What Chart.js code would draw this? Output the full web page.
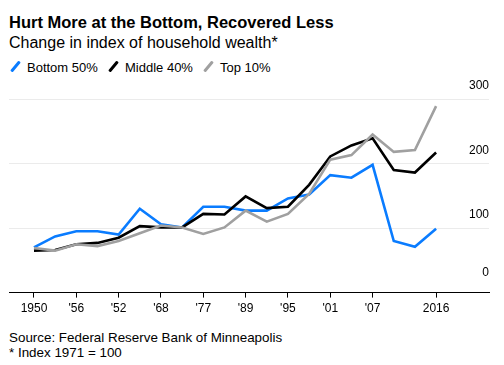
<!DOCTYPE html>
<html>
<head>
<meta charset="utf-8">
<script src="https://cdn.jsdelivr.net/npm/chart.js@4/dist/chart.umd.min.js"></script>
<style>
  body { margin: 0; width: 504px; height: 365px; background: #fff; font-family: "Liberation Sans", Arial, sans-serif; color: #000; overflow: hidden; }
  .abs { position: absolute; left: 9px; white-space: nowrap; }
  #title { top: 14.3px; font-size: 16.5px; line-height: 16.5px; font-weight: bold; }
  #subtitle { top: 34.8px; font-size: 16px; line-height: 16px; }
  #legend { top: 61.3px; font-size: 13px; line-height: 13px; left: 0; }
  #legend span.item { position: absolute; }
  #legend i { position: absolute; top: -1px; width: 3px; height: 13px; transform: rotate(40deg); border-radius: 1px; }
  #source { top: 329.9px; font-size: 13.4px; line-height: 15px; }
  #wrap { position: absolute; left: 0; top: 78px; width: 504px; height: 242px; }
</style>
</head>
<body>
<div id="title" class="abs">Hurt More at the Bottom, Recovered Less</div>
<div id="subtitle" class="abs">Change in index of household wealth*</div>
<div id="legend" class="abs"></div>
<div id="wrap"><canvas id="myChart" width="504" height="242"></canvas></div>
<div id="source" class="abs">Source: Federal Reserve Bank of Minneapolis<br>* Index 1971 = 100</div>
<script>
// survey years (evenly spaced on the chart)
const years = [1950, 1953, 1956, 1959, 1962, 1965, 1968, 1971, 1977, 1983,
               1989, 1992, 1995, 1998, 2001, 2004, 2007, 2010, 2013, 2016];

const bottom50 = [70, 87, 95, 95, 90, 130, 106, 101, 133, 133, 127, 127, 146, 152, 182, 178, 198, 80, 71, 99];
const middle40 = [65, 66, 75, 77, 85, 103, 101, 101, 122, 121, 149, 131, 133, 167, 211, 228, 239, 190, 186, 217];
const top10    = [69, 65, 75, 72, 80, 92, 104, 101, 91, 101, 127, 110, 122, 153, 206, 213, 245, 218, 221, 289];

// which points get an x label, and the text shown
const tickIndex  = [0, 2, 4, 6, 8, 10, 12, 14, 16, 19];
const tickLabels = ['1950', "'56", "'52", "'68", "'77", "'89", "'95", "'01", "'07", '2016'];

const yTicks = [0, 100, 200, 300];

const series = [
    {name: 'Bottom 50%', color: '#0a7cff', values: bottom50, x: 10},
    {name: 'Middle 40%', color: '#000000', values: middle40, x: 108},
    {name: 'Top 10%',    color: '#a0a0a0', values: top10,    x: 203}
];

// html legend with slanted swatches
const legend = document.getElementById('legend');
series.forEach((s)=>{
    let item = document.createElement('span');
    item.className = 'item';
    item.style.left = s.x + 'px';
    item.innerHTML = '<i style="left:4px;background:' + s.color + '"></i><span style="margin-left:17px">' + s.name + '</span>';
    legend.appendChild(item);
});

const toPoints = (vals)=> vals.map((v,i)=>({x: i, y: v}));

// draw grey first, blue on top
const datasets = series.slice().reverse().map((s)=>({
    label: s.name,
    data: toPoints(s.values),
    borderColor: s.color,
    borderWidth: 2.6,
    pointRadius: 0,
    tension: 0,
    fill: false
}));

const config = {
    type: 'line',
    data: {datasets: datasets},
    options: {
        responsive: false,
        animation: false,
        layout: {padding: {left: 9, right: 15, top: 21, bottom: 0}},
        plugins: {legend: {display: false}, tooltip: {enabled: false}},
        scales: {
            x: {
                type: 'linear',
                min: -1.18,
                max: 21.5,
                afterBuildTicks: (axis)=>{
                    axis.ticks = tickIndex.map((v)=>({value: v}));
                },
                ticks: {
                    autoSkip: false,
                    maxRotation: 0,
                    padding: 4,
                    color: '#000',
                    font: {family: 'Liberation Sans', size: 12},
                    callback: (v)=>{
                        let k = tickIndex.indexOf(v);
                        return k >= 0 ? tickLabels[k] : '';
                    }
                },
                grid: {drawOnChartArea: false, drawTicks: true, tickLength: 5, tickColor: '#000', tickWidth: 1},
                border: {display: true, color: '#000', width: 1}
            },
            y: {
                position: 'right',
                min: 0,
                max: 300,
                afterBuildTicks: (axis)=>{
                    axis.ticks = yTicks.map((v)=>({value: v}));
                },
                ticks: {
                    mirror: true,
                    padding: 0,
                    labelOffset: -13,
                    color: '#000',
                    font: {family: 'Liberation Sans', size: 12},
                    // lift the 0 label a bit more, off the axis line
                    callback: (v)=> v === 0 ? ['0', ''] : String(v)
                },
                grid: {
                    drawTicks: false,
                    color: (ctx)=> ctx.tick && ctx.tick.value === 0 ? 'rgba(0,0,0,0)' : '#ebebeb',
                    lineWidth: 1
                },
                border: {display: false}
            }
        }
    }
};

var myChart = new Chart(document.getElementById('myChart'), config);
</script>
</body>
</html>
